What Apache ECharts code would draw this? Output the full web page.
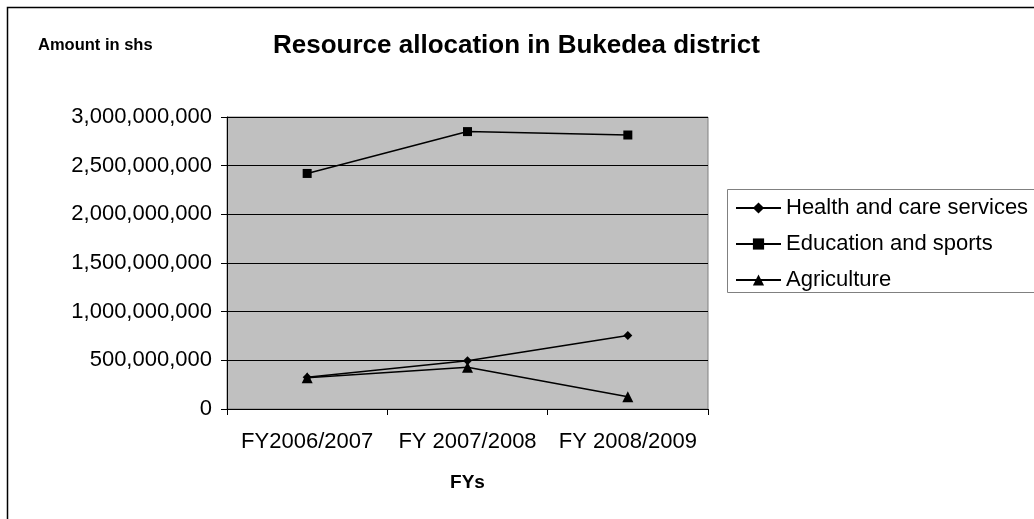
<!DOCTYPE html>
<html>
<head>
<meta charset="utf-8">
<script src="https://cdn.jsdelivr.net/npm/echarts@6/dist/echarts.min.js"></script>
<style>
  html, body { margin: 0; padding: 0; background: #fff; }
  #chart { width: 1034px; height: 519px; }
</style>
</head>
<body>
<div id="chart"></div>
<script>
// Fiscal years on the category axis
const years = ['FY2006/2007', 'FY 2007/2008', 'FY 2008/2009'];

// Allocations per sector, in shillings
const health = [325000000, 495000000, 755000000];
const education = [2420000000, 2850000000, 2815000000];
const agriculture = [320000000, 430000000, 125000000];

const seriesNames = ['Health and care services', 'Education and sports', 'Agriculture'];

const FONT = '"Liberation Sans", Arial, sans-serif';

const chart = echarts.init(document.getElementById('chart'), null, { renderer: 'canvas' });

function lineSeries(name, data, symbol, size) {
  return {
    name: name,
    type: 'line',
    data: data,
    symbol: symbol,
    symbolSize: size,
    showAllSymbol: true,
    lineStyle: { color: '#000', width: 1.5 },
    itemStyle: { color: '#000', borderColor: '#000', borderWidth: 0 },
    emphasis: { disabled: true },
    animation: false
  };
}

chart.setOption({
  animation: false,
  textStyle: { fontFamily: FONT },
  graphic: [
    {
      type: 'rect',
      shape: { x: 7.5, y: 7.5, width: 1040, height: 540 },
      style: { fill: 'none', stroke: '#000', lineWidth: 1.5 },
      silent: true
    },
    // Legend frame, running off the right-hand edge of the chart area
    {
      type: 'rect',
      shape: { x: 727.5, y: 189.5, width: 400, height: 103 },
      style: { fill: '#fff', stroke: '#808080', lineWidth: 1 },
      silent: true,
      z: -1
    },
    {
      type: 'text',
      left: 38, top: 37,
      style: { text: 'Amount in shs', font: 'bold 16.5px ' + FONT, fill: '#000' }
    },
    {
      type: 'text',
      left: 273, top: 33,
      style: { text: 'Resource allocation in Bukedea district', font: 'bold 26px ' + FONT, fill: '#000' }
    }
  ],
  legend: {
    orient: 'vertical',
    left: 727,
    top: 189,
    padding: [8, 8, 8, 8],
    itemGap: 14,
    itemWidth: 45,
    itemHeight: 14,
    borderWidth: 0,
    textStyle: { fontFamily: FONT, fontSize: 22, color: '#000' },
    data: seriesNames
  },
  grid: {
    left: 227,
    right: 326,
    top: 117,
    bottom: 110,
    show: true,
    backgroundColor: '#c0c0c0',
    borderColor: '#808080',
    borderWidth: 1
  },
  xAxis: {
    type: 'category',
    data: years,
    boundaryGap: true,
    name: 'FYs',
    nameLocation: 'middle',
    nameGap: 64,
    nameTextStyle: { fontFamily: FONT, fontSize: 19, fontWeight: 'bold', color: '#000' },
    axisLine: { lineStyle: { color: '#000', width: 1 } },
    axisTick: { show: true, inside: false, length: 6, alignWithLabel: false, lineStyle: { color: '#000' } },
    axisLabel: { fontFamily: FONT, fontSize: 22, color: '#000', margin: 22, interval: 0, hideOverlap: false },
    splitLine: { show: false }
  },
  yAxis: {
    type: 'value',
    min: 0,
    max: 3000000000,
    interval: 500000000,
    axisLine: { show: true, lineStyle: { color: '#000', width: 1 } },
    axisTick: { show: true, inside: false, length: 6, lineStyle: { color: '#000' } },
    axisLabel: {
      fontFamily: FONT, fontSize: 22, color: '#000', margin: 15,
      formatter: v => v.toLocaleString('en-US')
    },
    splitLine: { show: true, lineStyle: { color: '#000', width: 1 } }
  },
  series: [
    lineSeries(seriesNames[0], health, 'diamond', 9),
    lineSeries(seriesNames[1], education, 'rect', 9),
    lineSeries(seriesNames[2], agriculture, 'triangle', 11)
  ]
});
</script>
</body>
</html>
